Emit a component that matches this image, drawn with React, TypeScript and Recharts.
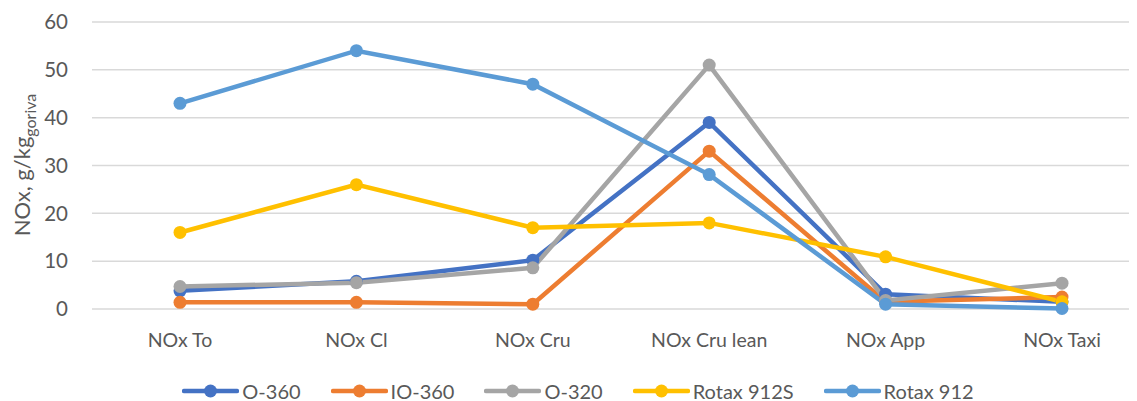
import React from 'react';
import {
  LineChart,
  Line,
  XAxis,
  YAxis,
  CartesianGrid,
  Legend
} from 'recharts';

const categories = ['NOx To', 'NOx Cl', 'NOx Cru', 'NOx Cru lean', 'NOx App', 'NOx Taxi'];
const o360 = [3.8, 5.8, 10.2, 39, 3.1, 1.5];
const io360 = [1.4, 1.4, 1.0, 33, 1.5, 2.5];
const o320 = [4.7, 5.5, 8.6, 51, 1.8, 5.4];
const rotax912S = [16, 26, 17, 18, 10.9, 1.5];
const rotax912 = [43, 54, 47, 28.1, 1.0, 0.1];
const yTicks = [0, 10, 20, 30, 40, 50, 60];

const series = [
  { key: 'O-360', values: o360, color: '#4472C4' },
  { key: 'IO-360', values: io360, color: '#ED7D31' },
  { key: 'O-320', values: o320, color: '#A5A5A5' },
  { key: 'Rotax 912S', values: rotax912S, color: '#FFC000' },
  { key: 'Rotax 912', values: rotax912, color: '#5B9BD5' }
];

const chartData = categories.map((name, i) => {
  const row: Record<string, string | number> = { name };
  series.forEach(s => {
    row[s.key] = s.values[i];
  });
  return row;
});

const FONT = 'Lato, "Open Sans", sans-serif';
const TEXT = '#595959';

function LegendContent() {
  return (
    <div
      style={{
        height: 20,
        display: 'flex',
        justifyContent: 'center',
        alignItems: 'center',
        gap: 30,
        paddingLeft: 11,
        fontFamily: FONT,
        fontSize: 20,
        color: TEXT,
        lineHeight: '20px'
      }}
    >
      {series.map(s => (
        <div key={s.key} style={{ display: 'flex', alignItems: 'center' }}>
          <svg width={57} height={16} style={{ marginRight: 3 }}>
            <line x1={2} y1={8} x2={55} y2={8} stroke={s.color} strokeWidth={4.5} strokeLinecap="round" />
            <circle cx={28.5} cy={8} r={6.5} fill={s.color} />
          </svg>
          <span>{s.key}</span>
        </div>
      ))}
    </div>
  );
}

function YLabel() {
  return (
    <text
      transform="translate(22, 157) rotate(-90)"
      textAnchor="middle"
      fill={TEXT}
      fontFamily={FONT}
      fontSize={22}
    >
      <tspan>NOx, g/kg</tspan>
      <tspan fontSize={16} dy={6}>goriva</tspan>
    </text>
  );
}

export default function App() {
  return (
    <div style={{ fontFamily: FONT }}>
      <LineChart
        width={1129}
        height={393}
        data={chartData}
        margin={{ top: 14, right: 0, bottom: 0, left: 0 }}
      >
        <CartesianGrid vertical={false} stroke="#D9D9D9" strokeWidth={1.5} />
        <XAxis
          dataKey="name"
          axisLine={false}
          tickLine={false}
          tickSize={0}
          tickMargin={24}
          height={72}
          padding={{ left: 88, right: 75 }}
          interval={0}
          tick={{ fill: TEXT, fontSize: 19.5, fontFamily: FONT }}
        />
        <YAxis
          domain={[0, 60]}
          ticks={yTicks}
          width={84}
          axisLine={false}
          tickLine={false}
          tickSize={0}
          tickMargin={24}
          tick={{ fill: TEXT, fontSize: 20.5, fontFamily: FONT }}
          label={{ content: () => <YLabel /> }}
        />
        <Legend verticalAlign="bottom" content={() => <LegendContent />} />
        {series.map(s => (
          <Line
            key={s.key}
            dataKey={s.key}
            stroke={s.color}
            strokeWidth={4.5}
            dot={{ r: 6.5, fill: s.color, stroke: 'none' }}
            activeDot={false}
            isAnimationActive={false}
          />
        ))}
      </LineChart>
    </div>
  );
}
